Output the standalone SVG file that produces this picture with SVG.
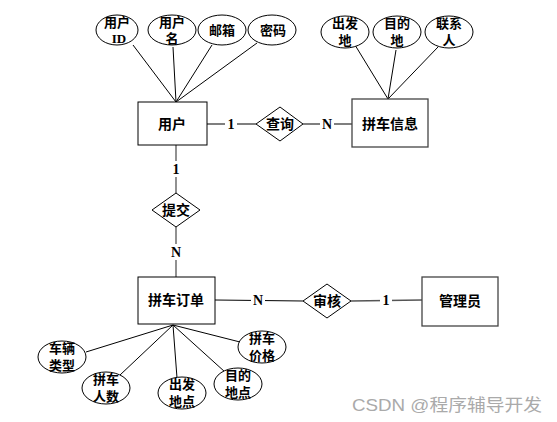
<svg xmlns="http://www.w3.org/2000/svg" width="557" height="422" viewBox="0 0 557 422">
<style>
.b{fill:#fff;stroke:#000;stroke-width:1}
.e{fill:#fff;stroke:#000;stroke-width:1}
.l{stroke:#000;stroke-width:1;fill:none}
.g{stroke:#555;stroke-width:1.3;fill:none}
.t{font-family:"Liberation Serif","Noto Sans CJK SC",serif;font-size:13px;font-weight:bold;fill:#000;text-anchor:middle}
.n{font-family:"Liberation Serif","Noto Sans CJK SC",serif;font-size:14px;font-weight:bold;fill:#000;text-anchor:middle}
.w{font-family:"Liberation Sans","Noto Sans CJK SC",sans-serif;font-size:17px;fill:#aaa}
</style>
<rect width="557" height="422" fill="#fff"/>
<g id="connectors">
<line class="l" x1="133" y1="45" x2="176" y2="102"/>
<line class="l" x1="173" y1="47" x2="176" y2="102"/>
<line class="l" x1="212" y1="45" x2="176" y2="102"/>
<line class="l" x1="257" y1="43" x2="176" y2="102"/>
<line class="l" x1="355" y1="45" x2="388" y2="99"/>
<line class="l" x1="396" y1="50" x2="388" y2="99"/>
<line class="l" x1="438" y1="47" x2="388" y2="99"/>
<line class="g" x1="207" y1="124" x2="256" y2="124"/>
<line class="g" x1="303" y1="124" x2="352" y2="124"/>
<line class="g" x1="176" y1="145" x2="176" y2="193"/>
<line class="g" x1="176" y1="227" x2="176" y2="277"/>
<line class="l" x1="215" y1="300" x2="303" y2="301"/>
<line class="g" x1="351" y1="301" x2="422" y2="300"/>
<line class="l" x1="86" y1="352" x2="173" y2="325"/>
<line class="l" x1="120" y1="375" x2="173" y2="325"/>
<line class="l" x1="177" y1="378" x2="173" y2="325"/>
<line class="l" x1="225" y1="372" x2="173" y2="325"/>
<line class="l" x1="240" y1="342" x2="173" y2="325"/>
</g>
<g id="attr-userid"><ellipse class="e" cx="117" cy="30" rx="21" ry="15"/><text class="t" x="117" y="27">用户</text><text class="t" x="119" y="43">ID</text></g>
<g id="attr-username"><ellipse class="e" cx="172" cy="30" rx="24" ry="15"/><text class="t" x="172" y="27">用户</text><text class="t" x="172" y="43">名</text></g>
<g id="attr-email"><ellipse class="e" cx="222" cy="30" rx="24" ry="15"/><text class="t" x="222" y="35">邮箱</text></g>
<g id="attr-pwd"><ellipse class="e" cx="272" cy="30" rx="24" ry="15"/><text class="t" x="273" y="35">密码</text></g>
<g id="attr-from"><ellipse class="e" cx="345" cy="32" rx="24" ry="16"/><text class="t" x="345" y="28">出发</text><text class="t" x="345" y="45">地</text></g>
<g id="attr-to"><ellipse class="e" cx="397" cy="32" rx="24" ry="16"/><text class="t" x="397" y="28">目的</text><text class="t" x="397" y="45">地</text></g>
<g id="attr-contact"><ellipse class="e" cx="449" cy="32" rx="24" ry="16"/><text class="t" x="449" y="28">联系</text><text class="t" x="449" y="45">人</text></g>
<g id="user"><rect class="b" x="138" y="102" width="69" height="43"/><text class="n" x="172" y="129">用户</text></g>
<g id="query"><polygon class="b" points="256,124 280,107 303,124 280,141"/><text class="n" x="280" y="129">查询</text></g>
<g id="carpool-info"><rect class="b" x="352" y="99" width="76" height="48" style="stroke:#444;stroke-width:1.3"/><text class="n" x="390" y="129">拼车信息</text></g>
<g id="submit"><polygon class="b" points="152,210 176,193 200,210 176,227"/><text class="n" x="176" y="215">提交</text></g>
<g id="order"><rect class="b" x="138" y="277" width="77" height="47"/><text class="n" x="176" y="305">拼车订单</text></g>
<g id="review"><polygon class="b" points="303,301 327,284 351,301 327,318"/><text class="n" x="327" y="306">审核</text></g>
<g id="admin"><rect class="b" x="422" y="277" width="76" height="49" style="stroke:#444;stroke-width:1.3"/><text class="n" x="460" y="306">管理员</text></g>
<g id="attr-vtype"><ellipse class="e" cx="62" cy="357" rx="24" ry="16"/><text class="t" x="62" y="353">车辆</text><text class="t" x="62" y="370">类型</text></g>
<g id="attr-count"><ellipse class="e" cx="106" cy="388" rx="24" ry="16"/><text class="t" x="106" y="384">拼车</text><text class="t" x="106" y="401">人数</text></g>
<g id="attr-fromplace"><ellipse class="e" cx="182" cy="393" rx="24" ry="16"/><text class="t" x="182" y="389">出发</text><text class="t" x="182" y="406">地点</text></g>
<g id="attr-toplace"><ellipse class="e" cx="238" cy="384" rx="24" ry="16"/><text class="t" x="238" y="380">目的</text><text class="t" x="238" y="397">地点</text></g>
<g id="attr-price"><ellipse class="e" cx="262" cy="347" rx="24" ry="16"/><text class="t" x="262" y="343">拼车</text><text class="t" x="262" y="360">价格</text></g>
<g id="labels">
<rect x="225" y="116" width="12" height="16" fill="#fff"/><text class="n" x="231" y="129">1</text>
<rect x="320" y="116" width="14" height="16" fill="#fff"/><text class="n" x="327" y="129">N</text>
<rect x="170" y="161" width="12" height="16" fill="#fff"/><text class="n" x="176" y="174">1</text>
<rect x="169" y="244" width="14" height="16" fill="#fff"/><text class="n" x="176" y="257">N</text>
<rect x="251" y="292" width="14" height="16" fill="#fff"/><text class="n" x="258" y="305">N</text>
<rect x="380" y="292" width="12" height="16" fill="#fff"/><text class="n" x="386" y="305">1</text>
</g>
<text class="w" x="352" y="411" textLength="190" lengthAdjust="spacingAndGlyphs">CSDN @程序辅导开发</text>
</svg>
